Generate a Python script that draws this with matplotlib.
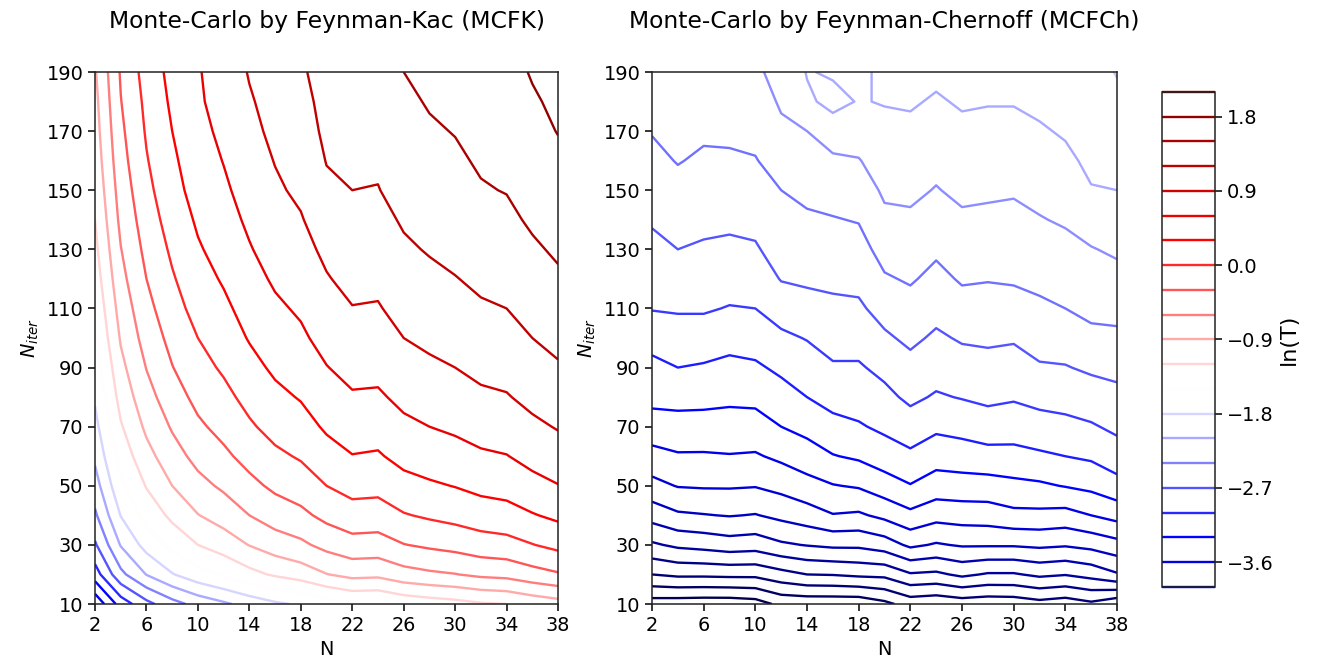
import numpy as np
import matplotlib
matplotlib.use("Agg")
import matplotlib.pyplot as plt
from matplotlib.colors import Normalize

# grid of the runs
n_values = [2, 4, 6, 8, 10, 12, 14, 16, 18, 20, 22, 24, 26, 28, 30, 32, 34, 36, 38]
niter_values = [10, 20, 30, 40, 50, 60, 70, 80, 90, 100,
                110, 120, 130, 140, 150, 160, 170, 180, 190]

# ln(T) for MCFK, one row per N_iter (columns follow n_values)
ln_t_mcfk = [
    [-3.84, -3.17, -2.79, -2.51, -2.30, -2.15, -1.99, -1.85, -1.76, -1.61, -1.51, -1.52, -1.41, -1.35, -1.30, -1.23, -1.20, -1.10, -1.02],
    [-3.14, -2.48, -2.09, -1.82, -1.61, -1.46, -1.29, -1.16, -1.06, -0.91, -0.81, -0.83, -0.71, -0.65, -0.61, -0.54, -0.51, -0.41, -0.33],
    [-2.74, -2.08, -1.69, -1.41, -1.20, -1.06, -0.89, -0.75, -0.66, -0.51, -0.41, -0.42, -0.31, -0.25, -0.20, -0.13, -0.10, -0.01, 0.08],
    [-2.45, -1.79, -1.40, -1.13, -0.91, -0.77, -0.60, -0.46, -0.37, -0.22, -0.12, -0.14, -0.02, 0.04, 0.09, 0.15, 0.19, 0.28, 0.36],
    [-2.23, -1.56, -1.18, -0.90, -0.69, -0.55, -0.38, -0.24, -0.15, 0.00, 0.10, 0.09, 0.20, 0.26, 0.31, 0.38, 0.41, 0.51, 0.59],
    [-2.04, -1.38, -1.00, -0.72, -0.51, -0.36, -0.20, -0.06, 0.03, 0.19, 0.29, 0.27, 0.39, 0.45, 0.49, 0.56, 0.59, 0.69, 0.77],
    [-1.89, -1.23, -0.84, -0.57, -0.35, -0.21, -0.04, 0.10, 0.19, 0.34, 0.44, 0.42, 0.54, 0.60, 0.65, 0.71, 0.75, 0.84, 0.92],
    [-1.76, -1.09, -0.71, -0.43, -0.22, -0.08, 0.09, 0.23, 0.32, 0.47, 0.57, 0.56, 0.67, 0.73, 0.78, 0.85, 0.88, 0.98, 1.06],
    [-1.64, -0.98, -0.59, -0.31, -0.10, 0.04, 0.21, 0.35, 0.44, 0.59, 0.69, 0.68, 0.79, 0.85, 0.90, 0.97, 1.00, 1.09, 1.17],
    [-1.53, -0.87, -0.48, -0.21, 0.00, 0.15, 0.32, 0.45, 0.55, 0.70, 0.80, 0.78, 0.90, 0.96, 1.00, 1.07, 1.10, 1.20, 1.28],
    [-1.44, -0.78, -0.39, -0.11, 0.10, 0.24, 0.41, 0.55, 0.64, 0.79, 0.89, 0.88, 0.99, 1.05, 1.10, 1.17, 1.20, 1.29, 1.37],
    [-1.35, -0.69, -0.30, -0.03, 0.19, 0.33, 0.50, 0.64, 0.73, 0.88, 0.98, 0.96, 1.08, 1.14, 1.19, 1.25, 1.28, 1.38, 1.46],
    [-1.27, -0.61, -0.22, 0.05, 0.27, 0.41, 0.58, 0.72, 0.81, 0.96, 1.06, 1.04, 1.16, 1.22, 1.27, 1.33, 1.37, 1.46, 1.54],
    [-1.20, -0.53, -0.15, 0.13, 0.34, 0.49, 0.65, 0.79, 0.88, 1.05, 1.13, 1.12, 1.23, 1.29, 1.34, 1.41, 1.44, 1.54, 1.62],
    [-1.13, -0.47, -0.08, 0.20, 0.41, 0.55, 0.72, 0.86, 0.95, 1.15, 1.20, 1.19, 1.30, 1.36, 1.41, 1.48, 1.51, 1.60, 1.69],
    [-1.07, -0.41, -0.02, 0.25, 0.46, 0.61, 0.78, 0.91, 1.01, 1.21, 1.26, 1.24, 1.36, 1.42, 1.46, 1.53, 1.56, 1.66, 1.74],
    [-1.02, -0.36, 0.03, 0.30, 0.52, 0.66, 0.83, 0.96, 1.06, 1.26, 1.31, 1.29, 1.41, 1.47, 1.51, 1.58, 1.61, 1.71, 1.81],
    [-0.98, -0.31, 0.07, 0.35, 0.56, 0.71, 0.87, 1.01, 1.10, 1.30, 1.36, 1.34, 1.45, 1.52, 1.56, 1.63, 1.66, 1.77, 1.85],
    [-0.93, -0.27, 0.12, 0.39, 0.58, 0.72, 0.92, 1.06, 1.15, 1.35, 1.40, 1.38, 1.50, 1.56, 1.61, 1.67, 1.71, 1.82, 1.89],
]

# ln(T) for MCFCh, one list per N (entries follow niter_values)
ln_t_mcfch_by_n = [
    [-5.20, -4.70, -4.33, -4.02, -3.76, -3.57, -3.38, -3.25, -3.15, -3.03, -2.89, -2.82, -2.75, -2.68, -2.61, -2.55, -2.49, -2.42, -2.36],
    [-5.21, -4.66, -4.26, -3.93, -3.69, -3.52, -3.37, -3.24, -3.10, -2.99, -2.88, -2.79, -2.70, -2.63, -2.56, -2.49, -2.45, -2.40, -2.36],
    [-5.22, -4.66, -4.23, -3.91, -3.68, -3.52, -3.38, -3.24, -3.12, -2.99, -2.88, -2.80, -2.72, -2.66, -2.60, -2.53, -2.47, -2.42, -2.36],
    [-5.22, -4.65, -4.19, -3.89, -3.68, -3.51, -3.38, -3.26, -3.15, -3.03, -2.91, -2.82, -2.74, -2.66, -2.59, -2.53, -2.46, -2.40, -2.33],
    [-5.19, -4.65, -4.21, -3.91, -3.69, -3.52, -3.38, -3.25, -3.13, -3.01, -2.90, -2.81, -2.72, -2.65, -2.58, -2.51, -2.45, -2.38, -2.32],
    [-5.05, -4.57, -4.13, -3.85, -3.64, -3.46, -3.30, -3.18, -3.06, -2.94, -2.81, -2.69, -2.62, -2.56, -2.50, -2.42, -2.33, -2.28, -2.26],
    [-5.04, -4.50, -4.09, -3.79, -3.57, -3.39, -3.24, -3.10, -3.00, -2.89, -2.77, -2.67, -2.60, -2.53, -2.45, -2.38, -2.30, -2.13, -2.09],
    [-5.04, -4.49, -4.06, -3.71, -3.51, -3.31, -3.16, -3.03, -2.92, -2.83, -2.74, -2.66, -2.59, -2.51, -2.43, -2.34, -2.18, -2.05, -2.12],
    [-5.04, -4.46, -4.06, -3.73, -3.48, -3.27, -3.12, -3.01, -2.92, -2.83, -2.73, -2.65, -2.57, -2.49, -2.40, -2.31, -2.21, -2.11, -2.12],
    [-4.95, -4.45, -4.00, -3.65, -3.39, -3.20, -3.06, -2.95, -2.85, -2.73, -2.63, -2.52, -2.43, -2.34, -2.27, -2.21, -2.15, -2.09, -2.08],
    [-4.82, -4.32, -3.86, -3.55, -3.31, -3.14, -2.99, -2.86, -2.76, -2.66, -2.57, -2.48, -2.41, -2.33, -2.26, -2.20, -2.14, -2.08, -2.03],
    [-4.85, -4.34, -3.92, -3.63, -3.39, -3.22, -3.06, -2.92, -2.82, -2.73, -2.64, -2.55, -2.47, -2.39, -2.31, -2.25, -2.19, -2.12, -2.06],
    [-4.81, -4.26, -3.88, -3.61, -3.38, -3.20, -3.03, -2.89, -2.78, -2.68, -2.57, -2.48, -2.41, -2.33, -2.26, -2.20, -2.14, -2.08, -2.02],
    [-4.83, -4.32, -3.88, -3.60, -3.38, -3.17, -2.99, -2.86, -2.76, -2.67, -2.58, -2.49, -2.42, -2.34, -2.27, -2.21, -2.15, -2.09, -2.02],
    [-4.82, -4.32, -3.88, -3.55, -3.35, -3.16, -3.01, -2.88, -2.78, -2.68, -2.57, -2.48, -2.41, -2.35, -2.28, -2.22, -2.15, -2.09, -2.03],
    [-4.77, -4.26, -3.86, -3.55, -3.33, -3.13, -2.98, -2.84, -2.72, -2.62, -2.53, -2.46, -2.38, -2.31, -2.25, -2.19, -2.12, -2.06, -2.00],
    [-4.81, -4.29, -3.88, -3.57, -3.29, -3.10, -2.95, -2.83, -2.71, -2.61, -2.50, -2.43, -2.35, -2.28, -2.21, -2.14, -2.08, -2.02, -1.97],
    [-4.74, -4.23, -3.84, -3.50, -3.25, -3.07, -2.92, -2.79, -2.67, -2.55, -2.45, -2.38, -2.31, -2.21, -2.11, -2.06, -2.03, -2.00, -1.97],
    [-4.85, -4.12, -3.77, -3.43, -3.17, -2.99, -2.86, -2.75, -2.65, -2.54, -2.44, -2.36, -2.27, -2.18, -2.10, -2.04, -1.99, -1.94, -1.89],
]

levels_mcfk = np.round(np.arange(-3.9, 2.11, 0.3), 2)
levels_mcfch = np.round(np.arange(-5.1, -1.89, 0.2), 2)

plt.rcParams['font.family'] = ['DejaVu Sans']
plt.rcParams['axes.linewidth'] = 1.1
plt.rcParams['axes.edgecolor'] = '#222222'
plt.rcParams['xtick.major.width'] = 1.1
plt.rcParams['ytick.major.width'] = 1.1
plt.rcParams['xtick.major.size'] = 4.9
plt.rcParams['ytick.major.size'] = 4.9

fig = plt.figure(figsize=(13.18, 6.68), dpi=100)
ax1 = fig.add_axes([0.0721, 0.0958, 0.3513, 0.7964])
ax2 = fig.add_axes([0.4947, 0.0958, 0.3528, 0.7964])
cax = fig.add_axes([0.8816, 0.1213, 0.0402, 0.7410])

# both panels share one colour scale
norm = Normalize(vmin=-5.1, vmax=2.1)
z_fk = np.array(ln_t_mcfk)
z_fch = np.array(ln_t_mcfch_by_n).T

cs1 = ax1.contour(n_values, niter_values, z_fk, levels=levels_mcfk,
                  cmap='seismic', norm=norm, linewidths=1.7)
cs2 = ax2.contour(n_values, niter_values, z_fch, levels=levels_mcfch,
                  cmap='seismic', norm=norm, linewidths=1.7)

titles = ['Monte-Carlo by Feynman-Kac (MCFK)',
          'Monte-Carlo by Feynman-Chernoff (MCFCh)']
for ax, title in zip([ax1, ax2], titles):
    ax.set_title(title, fontsize=16.9, pad=32)
    ax.set_xticks(range(2, 39, 4))
    ax.set_yticks(range(10, 191, 20))
    ax.tick_params(labelsize=13.9)
    ax.set_xlabel('N', fontsize=13.9)
    ax.set_ylabel('$N_{iter}$', fontsize=13.9)

cb = fig.colorbar(cs1, cax=cax)
cb.ax.tick_params(labelsize=13.9)
cb.set_label('ln(T)', fontsize=16)

fig.savefig('out.png', dpi=100)
